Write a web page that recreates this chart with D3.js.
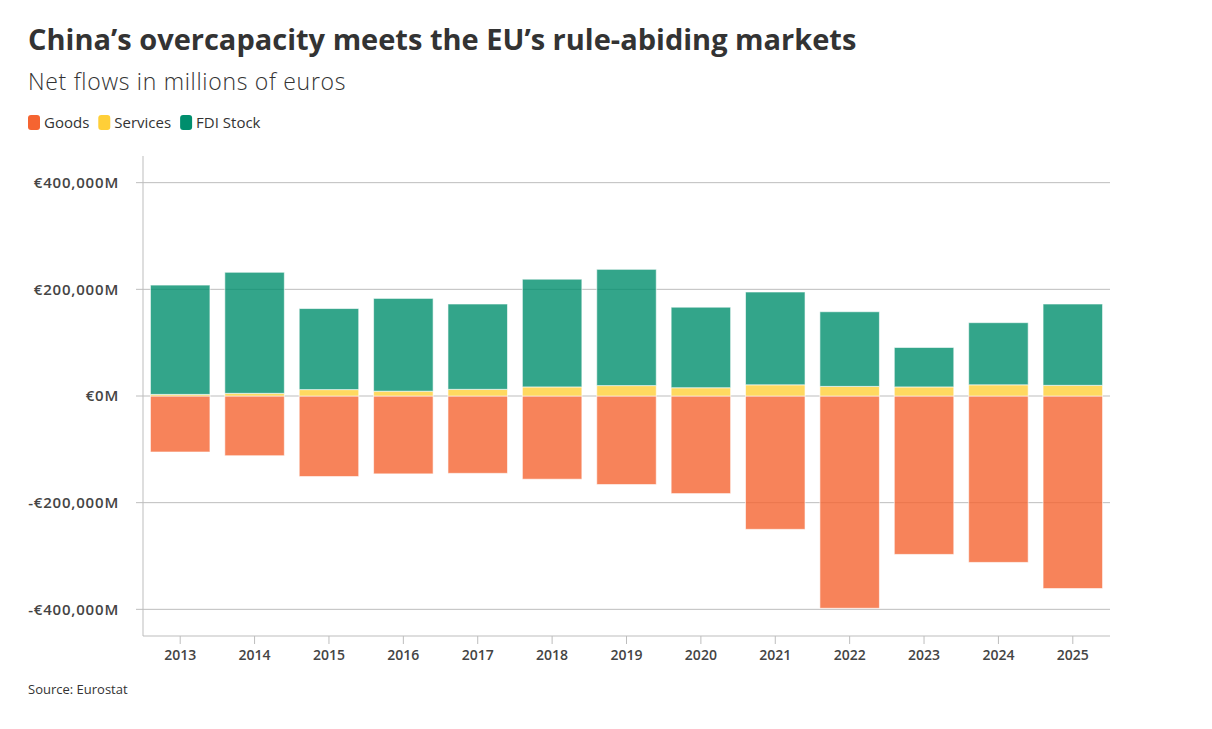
<!DOCTYPE html>
<html>
<head>
<meta charset="utf-8">
<script src="https://cdn.jsdelivr.net/npm/d3@7"></script>
<style>
  html, body { margin: 0; padding: 0; background: #fff; }
  svg { display: block; font-family: "Open Sans", "Lato", sans-serif; }
</style>
</head>
<body>
<svg id="chart" width="1212" height="729"></svg>
<script>
const years = ["2013","2014","2015","2016","2017","2018","2019","2020","2021","2022","2023","2024","2025"];
const goods = [-105000,-112000,-151000,-146000,-145000,-156000,-166000,-183000,-250000,-398000,-297000,-312000,-361000];
const services = [3000,5000,12000,9000,12500,17000,19500,15500,21000,18000,17000,21000,20000];
const fdi = [205000,227000,152000,174000,160000,202000,218000,151000,174000,140000,74000,116500,152500];
const yTicks = [400000,200000,0,-200000,-400000];
const seriesNames = ["Goods","Services","FDI Stock"];
const seriesColors = ["#f56431","#ffcf38","#008e6d"];

const svg = d3.select("#chart");
const W = 1212, H = 729;
const m = {left: 143, right: 102, top: 156, bottom: 93};
const x = d3.scaleBand().domain(years).range([m.left, W - m.right]).paddingInner(0.2).paddingOuter(0.1);
const y = d3.scaleLinear().domain([-450000, 450000]).range([H - m.bottom, m.top]);

// Title
svg.append("text").attr("x", 28).attr("y", 50)
  .attr("font-size", 29).attr("font-weight", 700).attr("fill", "#333")
  .text("China’s overcapacity meets the EU’s rule-abiding markets");
svg.append("text").attr("x", 28).attr("y", 90)
  .attr("font-size", 23).attr("font-weight", 300).attr("letter-spacing", 0.7).attr("fill", "#333")
  .text("Net flows in millions of euros");

// Legend
const leg = svg.append("g").attr("transform", "translate(28,115)");
let lx = 0;
seriesNames.forEach((n, i) => {
  const g = leg.append("g").attr("transform", `translate(${lx},0)`);
  g.append("rect").attr("width", 12).attr("height", 15).attr("rx", 3).attr("fill", seriesColors[i]);
  const t = g.append("text").attr("x", 16).attr("y", 13).attr("font-size", 15).attr("font-weight", 500).attr("fill", "#333").text(n);
  lx += 16 + t.node().getComputedTextLength() + 9;
});

// Grid + y axis labels
const gy = svg.append("g");
yTicks.forEach(v => {
  gy.append("line").attr("x1", m.left - 7).attr("x2", W - m.right)
    .attr("y1", y(v)).attr("y2", y(v)).attr("stroke", "#bdbdbd").attr("stroke-width", 1);
  gy.append("text").attr("x", 119).attr("y", y(v)).attr("dy", "0.36em")
    .attr("text-anchor", "end").attr("font-size", 15).attr("font-weight", 600)
    .attr("letter-spacing", 0.8).attr("fill", "#444")
    .text((v < 0 ? "-€" : "€") + d3.format(",")(Math.abs(v)) + "M");
});

// Bars
const bars = svg.append("g");
years.forEach((yr, i) => {
  const x0 = x(yr), bw = x.bandwidth();
  const segs = [
    {y0: goods[i], y1: 0, c: seriesColors[0]},
    {y0: 0, y1: services[i], c: seriesColors[1]},
    {y0: services[i], y1: services[i] + fdi[i], c: seriesColors[2]}
  ];
  segs.forEach(s => {
    bars.append("rect").attr("x", x0).attr("width", bw)
      .attr("y", y(Math.max(s.y0, s.y1))).attr("height", Math.abs(y(s.y0) - y(s.y1)))
      .attr("fill", s.c).attr("fill-opacity", 0.8)
      .attr("stroke", "#fff").attr("stroke-opacity", 0.6).attr("stroke-width", 1);
  });
});

// Axes lines
svg.append("line").attr("x1", m.left).attr("x2", m.left).attr("y1", m.top).attr("y2", H - m.bottom)
  .attr("stroke", "#bdbdbd");
const xAxis = svg.append("g").attr("transform", `translate(0,${H - m.bottom})`)
  .call(d3.axisBottom(x).tickSize(8).tickPadding(6));
xAxis.select(".domain").attr("stroke", "#bdbdbd").attr("d", `M${m.left},0H${W - m.right}`);
xAxis.selectAll(".tick line").attr("stroke", "#bdbdbd");
xAxis.selectAll(".tick text").attr("font-size", 14).attr("font-weight", 600).attr("fill", "#444")
  .attr("font-family", "'Open Sans', sans-serif");

// Source
svg.append("text").attr("x", 28).attr("y", 694).attr("font-size", 13).attr("fill", "#333")
  .text("Source: Eurostat");
</script>
</body>
</html>
